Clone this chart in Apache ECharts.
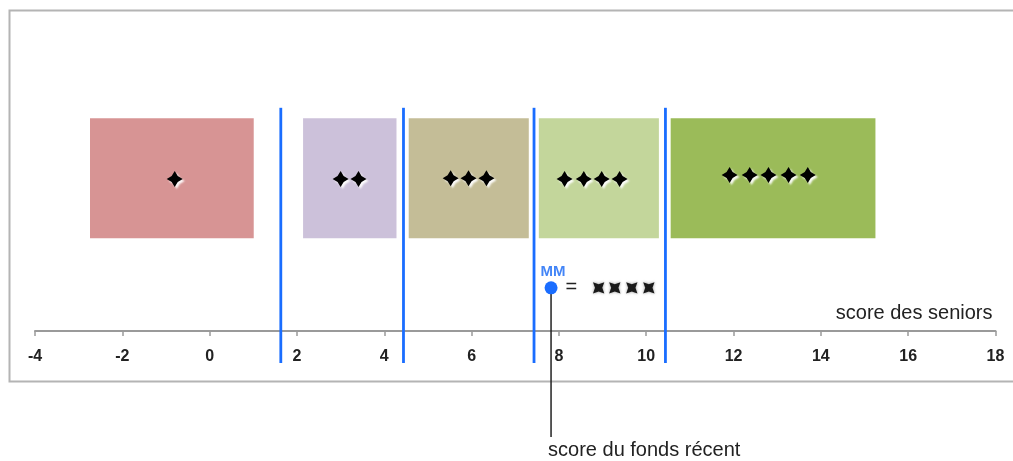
<!DOCTYPE html>
<html>
<head>
<meta charset="utf-8">
<script src="https://cdn.jsdelivr.net/npm/echarts@6/dist/echarts.min.js"></script>
<style>
html, body { margin: 0; padding: 0; background: #fff; }
#chart { width: 1013px; height: 461px; }
</style>
</head>
<body>
<div id="chart"></div>
<script>
// axis
const xTicks = [-4, -2, 0, 2, 4, 6, 8, 10, 12, 14, 16, 18];
// rating bands (score range of each colored box)
const bandStart = [-2.74, 2.14, 4.56, 7.54, 10.56];
const bandEnd = [1.01, 4.28, 7.31, 10.29, 15.25];
const bandColors = ['#D79494', '#CCC1DA', '#C4BD97', '#C3D69B', '#9BBB59'];
// stars drawn in each box
const starX = [
  [-0.80],
  [3.00, 3.41],
  [5.52, 5.93, 6.34],
  [8.13, 8.57, 8.98, 9.39],
  [11.91, 12.37, 12.80, 13.26, 13.70]
];
const starY = [3.8, 3.8, 3.82, 3.8, 3.9];
// cut-offs between ratings
const cutoffs = [1.63, 4.44, 7.43, 10.44];
// recent fund
const mmScore = 7.82;
const mmStarsX = [8.91, 9.28, 9.67, 10.06];

const FONT = "'Liberation Sans', Arial, sans-serif";
const BLUE = '#1A6DFF';
const BOX_TOP = 5.32, BOX_BOTTOM = 2.32;
const CUT_TOP = 5.58, CUT_BOTTOM = -0.8;
const MM_Y = 1.08, MM_LINE_END = -2.65;

const STAR = 'path://M0,-10 L3.8,-3.8 L10,0 L3.8,3.8 L0,10 L-3.8,3.8 L-10,0 L-3.8,-3.8 Z';
const XSTAR = 'path://M0,-10 L3.2,-3.2 L10,0 L3.2,3.2 L0,10 L-3.2,3.2 L-10,0 L-3.2,-3.2 Z';

const starData = [];
starX.forEach((xs, i) => xs.forEach(x => starData.push([x, starY[i]])));

const chart = echarts.init(document.getElementById('chart'));

const option = {
  animation: false,
  backgroundColor: '#fff',
  graphic: [{
    type: 'rect',
    left: 7, top: 8,
    shape: { width: 1012, height: 371 },
    style: { fill: 'none', stroke: '#B4B4B4', lineWidth: 2 },
    z: 0
  }],
  grid: { left: 35, right: 17.5, top: 11, bottom: 130, outerBoundsMode: 'none' },
  xAxis: {
    type: 'value',
    min: xTicks[0],
    max: xTicks[xTicks.length - 1],
    interval: 2,
    name: 'score des seniors',
    nameLocation: 'end',
    nameGap: -3,
    nameTextStyle: {
      fontFamily: FONT, fontSize: 20, color: '#222',
      align: 'right', verticalAlign: 'bottom', padding: [0, 0, 8, 0]
    },
    axisLine: { onZero: false, lineStyle: { color: '#9A9A9A', width: 2 } },
    axisTick: { show: true, length: 5, lineStyle: { color: '#9A9A9A', width: 1.5 } },
    axisLabel: {
      margin: 18,
      fontFamily: FONT, fontSize: 16, fontWeight: 'bold', color: '#222'
    },
    splitLine: { show: false }
  },
  yAxis: { type: 'value', min: 0, max: 8, show: false },
  series: [
    {
      type: 'custom',
      z: 1,
      clip: false,
      data: bandStart.map((s, i) => [s, bandEnd[i]]),
      renderItem: (params, api) => {
        const p0 = api.coord([api.value(0), BOX_TOP]);
        const p1 = api.coord([api.value(1), BOX_BOTTOM]);
        return {
          type: 'rect',
          shape: { x: p0[0], y: p0[1], width: p1[0] - p0[0], height: p1[1] - p0[1] },
          style: { fill: bandColors[params.dataIndex] }
        };
      }
    },
    {
      type: 'custom',
      z: 2,
      clip: false,
      data: cutoffs.map(c => [c]),
      renderItem: (params, api) => {
        const a = api.coord([api.value(0), CUT_TOP]);
        const b = api.coord([api.value(0), CUT_BOTTOM]);
        return {
          type: 'line',
          shape: { x1: a[0], y1: a[1], x2: b[0], y2: b[1] },
          style: { stroke: BLUE, lineWidth: 2.8 }
        };
      }
    },
    {
      type: 'scatter',
      z: 3,
      symbol: STAR,
      symbolSize: 16,
      data: starData,
      itemStyle: {
        color: '#000',
        opacity: 1,
        shadowColor: 'rgba(255,255,255,0.95)',
        shadowBlur: 2,
        shadowOffsetX: 2,
        shadowOffsetY: 2
      }
    },
    {
      // pointer line from the recent fund down to its caption
      type: 'custom',
      z: 3,
      clip: false,
      data: [[mmScore, MM_Y, MM_LINE_END]],
      renderItem: (params, api) => {
        const a = api.coord([api.value(0), api.value(1)]);
        const b = api.coord([api.value(0), api.value(2)]);
        return {
          type: 'group',
          children: [{
            type: 'line',
            shape: { x1: a[0], y1: a[1], x2: b[0], y2: b[1] },
            style: { stroke: '#222', lineWidth: 1.5 }
          }, {
            type: 'text',
            x: b[0] - 3, y: b[1] + 3,
            style: {
              text: 'score du fonds récent',
              fontFamily: FONT, fontSize: 20, fill: '#222',
              align: 'left', verticalAlign: 'top'
            }
          }]
        };
      }
    },
    {
      type: 'scatter',
      z: 4,
      symbol: 'circle',
      symbolSize: 13,
      data: [[mmScore, MM_Y]],
      itemStyle: { color: BLUE, opacity: 1 },
      label: {
        show: true, position: 'right', distance: 8,
        formatter: '=', fontFamily: FONT, fontSize: 20, color: '#222'
      }
    },
    {
      type: 'scatter',
      z: 4,
      symbolSize: 0,
      data: [[mmScore, MM_Y]],
      label: {
        show: true, position: 'top', distance: 8, offset: [2, 0],
        formatter: 'MM', fontFamily: FONT, fontSize: 15, fontWeight: 'bold', color: '#1466F5'
      }
    },
    {
      type: 'scatter',
      z: 4,
      symbol: XSTAR,
      symbolSize: 16,
      symbolRotate: 45,
      data: mmStarsX.map(x => [x, MM_Y]),
      itemStyle: {
        color: '#1A1A1A',
        opacity: 1,
        shadowColor: 'rgba(0,0,0,0.45)',
        shadowBlur: 3
      }
    }
  ]
};

chart.setOption(option);
</script>
</body>
</html>
